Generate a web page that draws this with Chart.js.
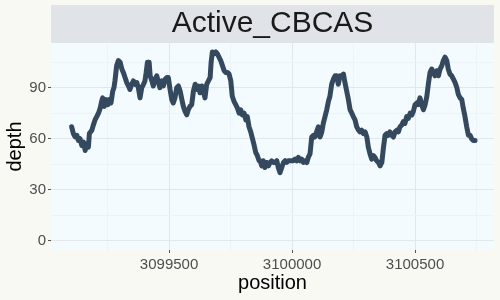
<!DOCTYPE html>
<html>
<head>
<meta charset="utf-8">
<script src="https://cdn.jsdelivr.net/npm/chart.js@4"></script>
<style>
  html, body { margin: 0; padding: 0; background: #F9F9F4; }
  canvas { display: block; }
</style>
</head>
<body>
<canvas id="depth-chart" width="500" height="300"></canvas>
<script>
// Data
const facetLabel = 'Active_CBCAS';

const positions = [
  3099104, 3099111, 3099118, 3099125, 3099131, 3099138, 3099145, 3099152, 3099159, 3099165,
  3099172, 3099176, 3099186, 3099192, 3099199, 3099206, 3099213, 3099220, 3099226, 3099230,
  3099237, 3099244, 3099251, 3099257, 3099264, 3099271, 3099276, 3099280, 3099287, 3099294,
  3099301, 3099308, 3099314, 3099321, 3099328, 3099335, 3099341, 3099348, 3099355, 3099362,
  3099369, 3099375, 3099382, 3099389, 3099396, 3099402, 3099407, 3099412, 3099419, 3099423,
  3099430, 3099436, 3099443, 3099450, 3099457, 3099463, 3099470, 3099477, 3099484, 3099491,
  3099497, 3099504, 3099511, 3099517, 3099524, 3099531, 3099538, 3099545, 3099552, 3099558,
  3099565, 3099572, 3099578, 3099585, 3099592, 3099599, 3099606, 3099613, 3099619, 3099626,
  3099633, 3099639, 3099646, 3099653, 3099660, 3099667, 3099671, 3099676, 3099683, 3099690,
  3099696, 3099703, 3099710, 3099717, 3099724, 3099730, 3099737, 3099744, 3099751, 3099757,
  3099764, 3099771, 3099778, 3099785, 3099791, 3099798, 3099805, 3099812, 3099818, 3099825,
  3099832, 3099839, 3099846, 3099852, 3099859, 3099866, 3099870, 3099877, 3099883, 3099890,
  3099897, 3099904, 3099911, 3099917, 3099924, 3099931, 3099938, 3099944, 3099951, 3099958,
  3099965, 3099972, 3099978, 3099985, 3099992, 3099999, 3100005, 3100012, 3100019, 3100026,
  3100033, 3100039, 3100046, 3100053, 3100060, 3100066, 3100073, 3100080, 3100087, 3100093,
  3100100, 3100107, 3100114, 3100121, 3100127, 3100134, 3100141, 3100148, 3100154, 3100161,
  3100168, 3100175, 3100182, 3100188, 3100195, 3100202, 3100209, 3100215, 3100222, 3100229,
  3100236, 3100243, 3100249, 3100256, 3100263, 3100270, 3100276, 3100283, 3100290, 3100297,
  3100304, 3100310, 3100317, 3100324, 3100331, 3100337, 3100344, 3100351, 3100358, 3100365,
  3100371, 3100378, 3100385, 3100391, 3100398, 3100405, 3100412, 3100419, 3100426, 3100432,
  3100439, 3100446, 3100452, 3100459, 3100466, 3100473, 3100480, 3100487, 3100493, 3100500,
  3100507, 3100513, 3100520, 3100527, 3100534, 3100541, 3100548, 3100554, 3100561, 3100568,
  3100574, 3100581, 3100588, 3100595, 3100602, 3100609, 3100615, 3100622, 3100629, 3100635,
  3100642, 3100649, 3100656, 3100663, 3100670, 3100676, 3100683, 3100690, 3100696, 3100703,
  3100710, 3100717, 3100724, 3100730, 3100737, 3100744
];

const depths = [
  67, 63, 61, 62, 59, 60, 56, 58, 53, 57,
  55, 63, 65, 68, 71, 73, 75, 78, 82, 84,
  79, 83, 80, 83, 81, 88, 90, 94, 103, 106,
  105, 101, 99, 96, 93, 91, 89, 92, 94, 92,
  93, 90, 84, 90, 92, 94, 99, 105, 105, 97,
  94, 91, 95, 97, 93, 90, 94, 91, 95, 96,
  96, 89, 83, 81, 84, 90, 91, 88, 83, 79,
  76, 74, 77, 79, 80, 88, 92, 89, 91, 87,
  91, 88, 84, 92, 94, 96, 105, 111, 110, 111,
  110, 108, 106, 103, 100, 99, 99, 98, 94, 85,
  82, 80, 78, 75, 77, 74, 75, 71, 73, 67,
  64, 60, 56, 52, 50, 47, 47, 44, 47, 43,
  46, 44, 46, 47, 46, 46, 47, 43, 40, 43,
  46, 47, 46, 47, 47, 47, 47, 48, 47, 49,
  47, 48, 46, 47, 46, 49, 51, 61, 62, 61,
  64, 67, 61, 64, 69, 73, 77, 82, 85, 92,
  95, 97, 97, 92, 97, 97, 98, 93, 88, 83,
  77, 75, 73, 71, 67, 65, 64, 65, 63, 64,
  61, 55, 51, 48, 50, 49, 47, 46, 44, 46,
  54, 62, 63, 62, 64, 62, 61, 64, 65, 64,
  67, 68, 70, 69, 73, 72, 75, 74, 76, 80,
  81, 80, 84, 80, 77, 80, 85, 92, 99, 101,
  99, 97, 100, 97, 101, 103, 106, 108, 106, 101,
  98, 97, 95, 93, 90, 86, 84, 83, 78, 73,
  67, 62, 62, 60, 59, 59
];

// Axis ticks: labelled (major) values and unlabelled (minor) grid lines
const xTickLabels = [3099500, 3100000, 3100500];
const xMinorTicks = [3099250, 3099750, 3100250, 3100750];
const yTickLabels = [0, 30, 60, 90];
const yMinorTicks = [15, 45, 75, 105];

// Colours
const pageColor = '#F9F9F4';
const panelColor = '#F3FBFE';
const stripColor = '#E0E4E9';
const majorGrid = '#E1E7EB';
const minorGrid = '#EDF3F6';
const lineColor = '#34495E';

// Background, facet strip and panel fill
const backdrop = {
  id: 'backdrop',
  beforeDraw(chart) {
    const { ctx, chartArea } = chart;
    ctx.save();
    ctx.fillStyle = pageColor;
    ctx.fillRect(0, 0, chart.width, chart.height);
    ctx.fillStyle = stripColor;
    ctx.fillRect(chartArea.left, 5, chartArea.right - chartArea.left, chartArea.top - 5);
    ctx.fillStyle = panelColor;
    ctx.fillRect(chartArea.left, chartArea.top, chartArea.right - chartArea.left, chartArea.bottom - chartArea.top);
    ctx.restore();
  }
};

function isMajor(list, value) {
  return list.includes(value);
}

const chartCanvas = document.getElementById('depth-chart').getContext('2d');

new Chart(chartCanvas, {
  type: 'line',
  data: {
    datasets: [{
      label: 'depth',
      data: positions.map((p, i) => ({ x: p, y: depths[i] })),
      borderColor: lineColor,
      borderWidth: 5,
      borderJoinStyle: 'round',
      borderCapStyle: 'round',
      pointRadius: 0,
      tension: 0,
      fill: false
    }]
  },
  options: {
    responsive: false,
    animation: false,
    layout: { padding: { top: 5, right: 6, bottom: 0, left: 0 } },
    plugins: {
      legend: { display: false },
      tooltip: { enabled: false },
      title: {
        display: true,
        text: facetLabel,
        fullSize: false,
        color: '#1A1A1A',
        font: { family: 'Liberation Sans', size: 30, weight: 'normal', lineHeight: 1.2 },
        padding: { top: 1, bottom: 1 }
      }
    },
    scales: {
      x: {
        type: 'linear',
        min: 3099020,
        max: 3100821,
        afterBuildTicks: (scale) => {
          scale.ticks = [...xMinorTicks, ...xTickLabels].sort((a, b) => a - b).map(v => ({ value: v }));
        },
        afterFit: (scale) => { scale.height = 50; },
        border: { display: false },
        grid: {
          color: (ctx) => isMajor(xTickLabels, ctx.tick.value) ? majorGrid : minorGrid,
          tickColor: (ctx) => isMajor(xTickLabels, ctx.tick.value) ? '#555555' : 'rgba(0,0,0,0)',
          tickLength: 3,
          lineWidth: 1
        },
        ticks: {
          autoSkip: false,
          maxRotation: 0,
          padding: 3,
          color: '#4D4D4D',
          font: { family: 'Liberation Sans', size: 15 },
          callback: (value) => isMajor(xTickLabels, value) ? String(value) : ''
        },
        title: {
          display: true,
          text: 'position',
          color: '#000000',
          font: { family: 'Liberation Sans', size: 20, lineHeight: 1.2 },
          padding: { top: 0, bottom: 5 }
        }
      },
      y: {
        type: 'linear',
        min: -5.5,
        max: 116.3,
        afterBuildTicks: (scale) => {
          scale.ticks = [...yTickLabels, ...yMinorTicks].sort((a, b) => a - b).map(v => ({ value: v }));
        },
        afterFit: (scale) => { scale.width = 51; },
        border: { display: false },
        grid: {
          color: (ctx) => isMajor(yTickLabels, ctx.tick.value) ? majorGrid : minorGrid,
          tickColor: (ctx) => isMajor(yTickLabels, ctx.tick.value) ? '#555555' : 'rgba(0,0,0,0)',
          tickLength: 3,
          lineWidth: 1
        },
        ticks: {
          autoSkip: false,
          padding: 2,
          color: '#4D4D4D',
          font: { family: 'Liberation Sans', size: 15 },
          callback: (value) => isMajor(yTickLabels, value) ? String(value) : ''
        },
        title: {
          display: true,
          text: 'depth',
          color: '#000000',
          font: { family: 'Liberation Sans', size: 20, lineHeight: 1.2 },
          padding: { top: 3, bottom: 0 }
        }
      }
    }
  },
  plugins: [backdrop]
});
</script>
</body>
</html>
